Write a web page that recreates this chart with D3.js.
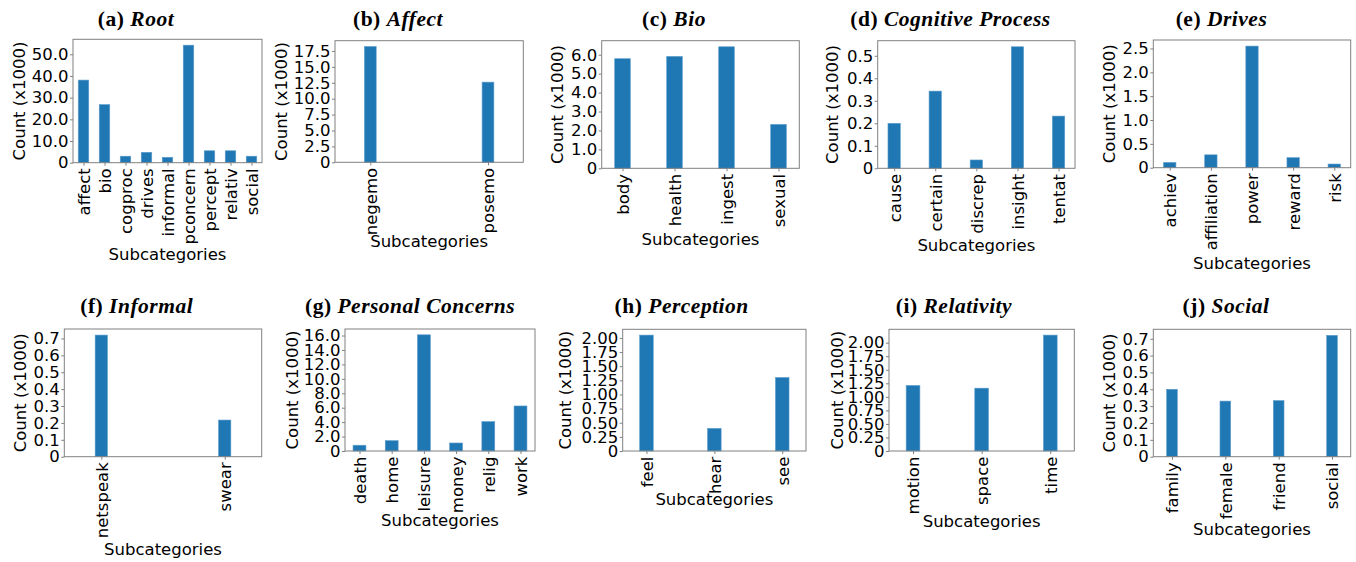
<!DOCTYPE html>
<html>
<head>
<meta charset="utf-8">
<script src="https://cdn.jsdelivr.net/npm/d3@7"></script>
<style>
  body { margin: 0; background: #fff; }
  svg { display: block; }
</style>
</head>
<body>
<svg id="chart" width="1356" height="562"></svg>
<script>
// ---- Counts per LIWC subcategory, in thousands ----
const rootCats = ["affect", "bio", "cogproc", "drives", "informal", "pconcern", "percept", "relativ", "social"];
const rootVals = [38.1, 26.8, 3.0, 4.8, 2.5, 54.2, 5.5, 5.5, 3.0];
const rootTicks = ["0", "10.0", "20.0", "30.0", "40.0", "50.0"];

const affectCats = ["negemo", "posemo"];
const affectVals = [18.2, 12.6];
const affectTicks = ["0", "2.5", "5.0", "7.5", "10.0", "12.5", "15.0", "17.5"];

const bioCats = ["body", "health", "ingest", "sexual"];
const bioVals = [5.79, 5.91, 6.42, 2.32];
const bioTicks = ["0", "1.0", "2.0", "3.0", "4.0", "5.0", "6.0"];

const cogCats = ["cause", "certain", "discrep", "insight", "tentat"];
const cogVals = [0.20, 0.343, 0.037, 0.54, 0.232];
const cogTicks = ["0", "0.1", "0.2", "0.3", "0.4", "0.5"];

const drivesCats = ["achiev", "affiliation", "power", "reward", "risk"];
const drivesVals = [0.11, 0.27, 2.55, 0.21, 0.077];
const drivesTicks = ["0", "0.5", "1.0", "1.5", "2.0", "2.5"];

const informalCats = ["netspeak", "swear"];
const informalVals = [0.72, 0.217];
const informalTicks = ["0", "0.1", "0.2", "0.3", "0.4", "0.5", "0.6", "0.7"];

const pconcernCats = ["death", "home", "leisure", "money", "relig", "work"];
const pconcernVals = [0.8, 1.43, 16.1, 1.11, 4.07, 6.24];
const pconcernTicks = ["0", "2.0", "4.0", "6.0", "8.0", "10.0", "12.0", "14.0", "16.0"];

const perceptCats = ["feel", "hear", "see"];
const perceptVals = [2.05, 0.40, 1.30];
const perceptTicks = ["0", "0.25", "0.50", "0.75", "1.00", "1.25", "1.50", "1.75", "2.00"];

const relativCats = ["motion", "space", "time"];
const relativVals = [1.21, 1.16, 2.14];
const relativTicks = ["0", "0.25", "0.50", "0.75", "1.00", "1.25", "1.50", "1.75", "2.00"];

const socialCats = ["family", "female", "friend", "social"];
const socialVals = [0.40, 0.33, 0.333, 0.72];
const socialTicks = ["0", "0.1", "0.2", "0.3", "0.4", "0.5", "0.6", "0.7"];

// ---- Panel layout: plot frame [left, top, right, bottom], label anchors, bar width (category units) ----
const panels = [
  { letter: "(a)", name: "Root", cats: rootCats, vals: rootVals, ticks: rootTicks, bw: 0.5,
    box: [73, 39.3, 262, 162.7], titleX: 136, titleY: 26, xLabelY: 259.5, yLabelX: 19 },
  { letter: "(b)", name: "Affect", cats: affectCats, vals: affectVals, ticks: affectTicks, bw: 0.1,
    box: [335, 40.7, 523.3, 162.3], titleX: 398, titleY: 26, xLabelY: 247, yLabelX: 281 },
  { letter: "(c)", name: "Bio", cats: bioCats, vals: bioVals, ticks: bioTicks, bw: 0.3,
    box: [601.7, 40.7, 799.3, 168.3], titleX: 674, titleY: 26, xLabelY: 244.5, yLabelX: 556.7 },
  { letter: "(d)", name: "Cognitive Process", cats: cogCats, vals: cogVals, ticks: cogTicks, bw: 0.3,
    box: [877.7, 40.7, 1075, 168.3], titleX: 950.5, titleY: 26, xLabelY: 250.5, yLabelX: 832.5 },
  { letter: "(e)", name: "Drives", cats: drivesCats, vals: drivesVals, ticks: drivesTicks, bw: 0.3,
    box: [1153.3, 40, 1350.7, 167.7], titleX: 1221.5, titleY: 26, xLabelY: 268.5, yLabelX: 1109.2 },
  { letter: "(f)", name: "Informal", cats: informalCats, vals: informalVals, ticks: informalTicks, bw: 0.1,
    box: [64.3, 329, 261.7, 456.7], titleX: 136.7, titleY: 313.3, xLabelY: 555, yLabelX: 19.7 },
  { letter: "(g)", name: "Personal Concerns", cats: pconcernCats, vals: pconcernVals, ticks: pconcernTicks, bw: 0.4,
    box: [345, 329, 535, 451], titleX: 410, titleY: 313.3, xLabelY: 525.7, yLabelX: 292.5 },
  { letter: "(h)", name: "Perception", cats: perceptCats, vals: perceptVals, ticks: perceptTicks, bw: 0.2,
    box: [622.7, 329.3, 806, 451], titleX: 681.7, titleY: 313.3, xLabelY: 505, yLabelX: 565 },
  { letter: "(i)", name: "Relativity", cats: relativCats, vals: relativVals, ticks: relativTicks, bw: 0.2,
    box: [889, 329.3, 1074.3, 451], titleX: 954, titleY: 313.3, xLabelY: 526.7, yLabelX: 837.5 },
  { letter: "(j)", name: "Social", cats: socialCats, vals: socialVals, ticks: socialTicks, bw: 0.2,
    box: [1153.3, 329.3, 1350.7, 456.7], titleX: 1226, titleY: 313.3, xLabelY: 535, yLabelX: 1109.2 }
];

const BAR = "#1f77b4";
const FRAME = "#808080";
const SANS = "'DejaVu Sans', sans-serif";
const SERIF = "'Liberation Serif', 'DejaVu Serif', serif";
const FS = 16.5;

const svg = d3.select("#chart");

panels.forEach(p => {
  const [l, t, r, b] = p.box;
  const n = p.cats.length;
  const half = 0.25 + p.bw / 2;
  const x = d3.scaleLinear().domain([-half, n - 1 + half]).range([l, r]);
  const y = d3.scaleLinear().domain([0, d3.max(p.vals) * 1.05]).range([b, t]);

  const g = svg.append("g");

  // bars
  g.selectAll("rect.bar").data(p.vals).join("rect")
    .attr("class", "bar")
    .attr("x", (d, i) => x(i - p.bw / 2))
    .attr("width", (d, i) => x(i + p.bw / 2) - x(i - p.bw / 2))
    .attr("y", d => y(d))
    .attr("height", d => y(0) - y(d))
    .attr("fill", BAR)
    .attr("stroke", "#5e9dcc")
    .attr("stroke-width", 0.6);

  // y axis
  const yAxis = d3.axisLeft(y)
    .tickValues(p.ticks.map(Number))
    .tickFormat((d, i) => p.ticks[i])
    .tickSize(3).tickPadding(1.5);
  const gy = g.append("g").attr("transform", `translate(${l},0)`).call(yAxis);
  gy.select(".domain").remove();
  gy.selectAll(".tick line").attr("stroke", FRAME);
  gy.selectAll(".tick text")
    .attr("font-family", SANS).attr("font-size", FS).attr("fill", "#000");

  // x axis with vertical category labels
  const xAxis = d3.axisBottom(x)
    .tickValues(d3.range(n))
    .tickFormat(i => p.cats[i])
    .tickSize(3);
  const gx = g.append("g").attr("transform", `translate(0,${b})`).call(xAxis);
  gx.select(".domain").remove();
  gx.selectAll(".tick line").attr("stroke", FRAME);
  gx.selectAll(".tick text")
    .attr("font-family", SANS).attr("font-size", FS).attr("fill", "#000")
    .attr("transform", "rotate(-90)")
    .attr("text-anchor", "end")
    .attr("x", -5.6).attr("y", 0).attr("dy", "0.36em");

  // frame
  g.append("rect")
    .attr("x", l).attr("y", t).attr("width", r - l).attr("height", b - t)
    .attr("fill", "none").attr("stroke", FRAME).attr("stroke-width", 1);

  // axis titles
  g.append("text")
    .attr("x", (l + r) / 2).attr("y", p.xLabelY)
    .attr("text-anchor", "middle")
    .attr("font-family", SANS).attr("font-size", FS)
    .text("Subcategories");
  g.append("text")
    .attr("transform", `translate(${p.yLabelX},${(t + b) / 2}) rotate(-90)`)
    .attr("text-anchor", "middle").attr("dy", "0.36em")
    .attr("font-family", SANS).attr("font-size", FS)
    .text("Count (x1000)");

  // panel caption
  const cap = g.append("text")
    .attr("x", p.titleX).attr("y", p.titleY)
    .attr("text-anchor", "middle")
    .attr("font-family", SERIF).attr("font-size", 21.5).attr("font-weight", "bold")
    .attr("letter-spacing", 0.5);
  cap.append("tspan").text(p.letter + " ");
  cap.append("tspan").attr("font-style", "italic").text(p.name);
});
</script>
</body>
</html>
